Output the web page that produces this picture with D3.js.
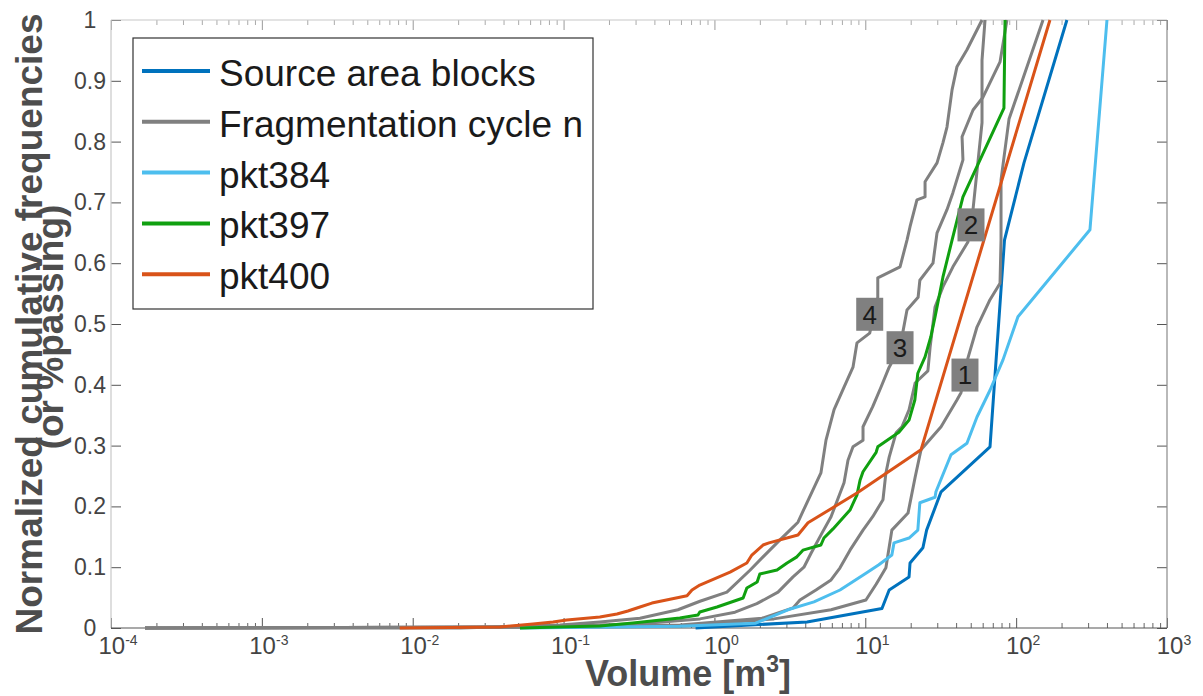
<!DOCTYPE html>
<html>
<head>
<meta charset="utf-8">
<script src="https://cdn.jsdelivr.net/npm/d3@7"></script>
<style>
  body { margin: 0; background: #fff; }
  svg { display: block; font-family: "Liberation Sans", Arial, Helvetica, sans-serif; }
</style>
</head>
<body>
<svg id="chart" width="1203" height="696"></svg>
<script>
// ---- Data: [volume m³, normalized cumulative frequency] ----
const sourceBlocks = [[0.75,0],[4.11,0.010],[12.9,0.032],[14.4,0.0625],[19.5,0.084],[19.8,0.107],[24.1,0.132],[25.5,0.161],[31.8,0.224],[67.1,0.298],[83.7,0.638],[112.7,0.765],[217,1.0]];

const cycle1 = [[1.68e-4,0],[0.174,0.002],[0.591,0.003],[2.48,0.015],[5.93,0.030],[10.1,0.046],[11.8,0.072],[13.7,0.099],[15.0,0.161],[19.2,0.189],[21.4,0.248],[23.4,0.293],[31.8,0.331],[40.5,0.375],[43.1,0.387],[45.8,0.416],[47.9,0.444],[55.0,0.495],[67.1,0.540],[78.2,0.567],[79.4,0.638],[79.4,0.737],[89.7,0.837],[150.7,1.0]];

const cycle2 = [[1.68e-4,0],[0.0947,0.002],[0.591,0.005],[2.07,0.016],[3.32,0.033],[3.69,0.046],[4.71,0.0625],[5.93,0.079],[6.80,0.099],[7.92,0.128],[9.66,0.161],[11.2,0.183],[13.1,0.211],[13.7,0.255],[14.4,0.281],[16.0,0.321],[17.5,0.331],[19.5,0.359],[21.4,0.403],[26.0,0.423],[26.9,0.462],[29.0,0.528],[32.7,0.561],[38.1,0.594],[47.9,0.635],[50.2,0.663],[51.8,0.689],[59.4,0.831],[59.4,0.934],[62.2,1.0]];

const cycle3 = [[1.68e-4,0],[0.0698,0.002],[0.321,0.007],[0.802,0.015],[1.37,0.026],[1.91,0.040],[2.64,0.059],[3.32,0.084],[3.92,0.100],[4.37,0.123],[5.16,0.156],[5.93,0.183],[7.23,0.239],[7.68,0.276],[8.29,0.298],[9.66,0.309],[9.66,0.331],[11.2,0.364],[12.7,0.396],[14.4,0.429],[17.0,0.462],[18.9,0.523],[22.4,0.544],[23.0,0.572],[28.1,0.600],[29.9,0.650],[34.8,0.688],[38.1,0.716],[44.4,0.770],[43.8,0.808],[51.8,0.852],[60.3,0.873],[78.2,0.931],[86.9,1.0]];

const cycle4 = [[1.68e-4,0],[0.0206,0],[0.0947,0.005],[0.174,0.010],[0.321,0.016],[0.573,0.030],[0.802,0.044],[1.21,0.059],[1.72,0.095],[2.10,0.117],[2.72,0.145],[3.32,0.166],[3.58,0.174],[3.98,0.199],[4.50,0.227],[5.08,0.255],[5.49,0.309],[6.21,0.359],[7.23,0.396],[8.29,0.429],[8.81,0.469],[10.7,0.485],[12.1,0.544],[12.1,0.576],[17.0,0.594],[18.9,0.638],[19.8,0.660],[22.0,0.704],[24.9,0.709],[24.9,0.734],[29.9,0.765],[32.7,0.798],[34.8,0.824],[37.6,0.885],[40.5,0.923],[47.2,0.951],[59.4,1.0]];

const pkt384 = [[0.0514,0],[0.59,0.003],[1.88,0.008],[3.07,0.030],[4.57,0.043],[6.80,0.0625],[10.1,0.090],[12.3,0.104],[15.0,0.120],[15.5,0.140],[19.5,0.148],[22.3,0.161],[23.0,0.206],[29.0,0.215],[29.4,0.224],[37.0,0.285],[47.2,0.304],[55.0,0.347],[67.1,0.391],[81.8,0.441],[102.8,0.512],[308.5,0.655],[400,1.0]];

const pkt397 = [[0.0514,0],[0.174,0.0033],[0.288,0.0082],[0.59,0.0164],[0.778,0.0214],[0.80,0.0263],[1.04,0.0345],[1.55,0.0493],[1.64,0.0658],[1.92,0.0757],[2.00,0.0888],[2.60,0.0954],[3.03,0.107],[3.52,0.117],[3.86,0.128],[5.08,0.1365],[5.32,0.148],[6.11,0.163],[7.92,0.194],[8.81,0.219],[9.23,0.243],[9.66,0.257],[11.8,0.289],[12.1,0.298],[16.7,0.322],[19.5,0.342],[21.3,0.375],[22.3,0.419],[24.9,0.446],[27.2,0.479],[29.0,0.5115],[32.7,0.577],[37.6,0.638],[44.4,0.709],[83.0,0.855],[84.4,1.0]];

const pkt400 = [[0.0082,0],[0.0379,0.0016],[0.0627,0.0066],[0.0851,0.0099],[0.105,0.013],[0.174,0.018],[0.226,0.023],[0.267,0.028],[0.321,0.0345],[0.385,0.041],[0.658,0.053],[0.710,0.0625],[0.80,0.0707],[1.27,0.092],[1.64,0.107],[1.77,0.120],[2.10,0.1365],[2.30,0.140],[3.58,0.153],[4.17,0.173],[8.81,0.222],[23.4,0.293],[167.5,1.0]];

// Cycle number tags sitting on the grey curves
const cycleLabels = ["1", "2", "3", "4"];
const cycleLabelVolume = [45.8, 50.2, 17.0, 10.7];
const cycleLabelFreq = [0.416, 0.663, 0.461, 0.516];

// Axis ticks
const volumeTicks = [1e-4, 1e-3, 1e-2, 1e-1, 1, 10, 100, 1000];
const volumeTickExponents = ["-4", "-3", "-2", "-1", "0", "1", "2", "3"];
const freqTicks = [0, 0.1, 0.2, 0.3, 0.4, 0.5, 0.6, 0.7, 0.8, 0.9, 1];
const freqTickLabels = ["0", "0.1", "0.2", "0.3", "0.4", "0.5", "0.6", "0.7", "0.8", "0.9", "1"];

const legendNames = ["Source area blocks", "Fragmentation cycle n", "pkt384", "pkt397", "pkt400"];

// ---- Styles ----
const BLUE = "#0072BD", GREY = "#808080", LIGHTBLUE = "#4DBEEE", GREEN = "#10A010", ORANGE = "#D95319";
const legendColors = [BLUE, GREY, LIGHTBLUE, GREEN, ORANGE];

const svg = d3.select("#chart");
const plot = { left: 111, right: 1167, top: 20, bottom: 628 };

const x = d3.scaleLog().domain([1e-4, 1e3]).range([plot.left, plot.right]);
const y = d3.scaleLinear().domain([0, 1]).range([plot.bottom, plot.top]);

// minor ticks 2..9 within every decade
const minorTicks = [];
for (let e = -4; e < 3; e++) for (let m = 2; m <= 9; m++) minorTicks.push(m * Math.pow(10, e));

const axisG = svg.append("g");

function tickAxis(axisFn, scale, values, size, yPos, xPos, color) {
  const g = axisG.append("g")
    .attr("transform", `translate(${xPos || 0},${yPos || 0})`)
    .call(axisFn(scale).tickValues(values).tickSize(size).tickFormat(""));
  g.select(".domain").remove();
  g.selectAll(".tick line").attr("stroke", color).attr("stroke-width", 1);
  return g;
}

// bottom and top: major + minor, pointing inward
tickAxis(d3.axisBottom, x, volumeTicks, -10, plot.bottom, 0, "#555");
tickAxis(d3.axisBottom, x, minorTicks, -5, plot.bottom, 0, "#666");
tickAxis(d3.axisTop, x, volumeTicks, -10, plot.top, 0, "#9a9a9a");
tickAxis(d3.axisTop, x, minorTicks, -5, plot.top, 0, "#aaa");
// left and right
tickAxis(d3.axisLeft, y, freqTicks, -10, 0, plot.left, "#555");
tickAxis(d3.axisRight, y, freqTicks, -10, 0, plot.right, "#555");

// frame
axisG.append("line").attr("x1", plot.left).attr("x2", plot.left).attr("y1", plot.top).attr("y2", plot.bottom).attr("stroke", "#c8c8c8").attr("stroke-width", 1.2);
axisG.append("line").attr("x1", plot.left).attr("x2", plot.right).attr("y1", plot.top).attr("y2", plot.top).attr("stroke", "#c8c8c8").attr("stroke-width", 1.2);
axisG.append("line").attr("x1", plot.right).attr("x2", plot.right).attr("y1", plot.top).attr("y2", plot.bottom).attr("stroke", "#8a8a8a").attr("stroke-width", 1.2);
axisG.append("line").attr("x1", plot.left).attr("x2", plot.right).attr("y1", plot.bottom).attr("y2", plot.bottom).attr("stroke", "#555").attr("stroke-width", 1.2);

// x tick labels as powers of ten
volumeTicks.forEach((v, i) => {
  const t = axisG.append("text")
    .attr("x", x(v) + 7).attr("y", 654)
    .attr("text-anchor", "middle")
    .attr("fill", "#444").attr("font-size", 24);
  t.append("tspan").text("10");
  t.append("tspan").attr("font-size", 14).attr("dy", -9).text(volumeTickExponents[i]);
});

// y tick labels
freqTicks.forEach((f, i) => {
  axisG.append("text")
    .attr("x", 90).attr("y", y(f)).attr("dy", "0.35em")
    .attr("text-anchor", "middle")
    .attr("fill", "#444").attr("font-size", 23)
    .text(freqTickLabels[i]);
});

// axis titles
const xt = svg.append("text")
  .attr("x", 688).attr("y", 686)
  .attr("text-anchor", "middle")
  .attr("font-weight", "bold").attr("font-size", 36).attr("fill", "#4d4d4d");
xt.append("tspan").text("Volume [m");
xt.append("tspan").attr("font-size", 23).attr("dy", -14).text("3");
xt.append("tspan").attr("dy", 14).text("]");

svg.append("text")
  .attr("transform", `translate(42,324) rotate(-90)`)
  .attr("text-anchor", "middle")
  .attr("font-weight", "bold").attr("font-size", 37).attr("fill", "#4d4d4d")
  .text("Normalized cumulative frequencies");
svg.append("text")
  .attr("transform", `translate(63,327) rotate(-90)`)
  .attr("text-anchor", "middle")
  .attr("font-weight", "bold").attr("font-size", 37).attr("fill", "#4d4d4d")
  .text("(or %passing)");

// ---- Curves ----
const line = d3.line().x(d => x(d[0])).y(d => y(d[1]));
const curves = [
  { data: sourceBlocks, color: BLUE },
  { data: cycle1, color: GREY },
  { data: cycle2, color: GREY },
  { data: cycle3, color: GREY },
  { data: cycle4, color: GREY },
  { data: pkt384, color: LIGHTBLUE },
  { data: pkt397, color: GREEN },
  { data: pkt400, color: ORANGE }
];
svg.append("g").selectAll("path").data(curves).join("path")
  .attr("d", d => line(d.data))
  .attr("fill", "none")
  .attr("stroke", d => d.color)
  .attr("stroke-width", 3)
  .attr("stroke-linejoin", "round");

// ---- Cycle number tags ----
const tagW = 27, tagH = 33;
const tags = svg.append("g").selectAll("g").data(cycleLabels).join("g")
  .attr("transform", (d, i) => `translate(${x(cycleLabelVolume[i])},${y(cycleLabelFreq[i])})`);
tags.append("rect")
  .attr("x", -tagW / 2).attr("y", -tagH / 2).attr("width", tagW).attr("height", tagH)
  .attr("fill", "#808080");
tags.append("text")
  .attr("text-anchor", "middle").attr("dy", "0.36em")
  .attr("font-size", 26).attr("fill", "#1a1a1a")
  .text(d => d);

// ---- Legend ----
const legend = svg.append("g");
legend.append("rect")
  .attr("x", 133).attr("y", 38).attr("width", 460).attr("height", 271)
  .attr("fill", "#fff").attr("stroke", "#333").attr("stroke-width", 1.2);
const rows = legend.selectAll("g.row").data(legendNames).join("g")
  .attr("class", "row")
  .attr("transform", (d, i) => `translate(0,${71 + i * 50.8})`);
rows.append("line")
  .attr("x1", 142).attr("x2", 210).attr("y1", 0).attr("y2", 0)
  .attr("stroke", (d, i) => legendColors[i]).attr("stroke-width", 4);
rows.append("text")
  .attr("x", 219).attr("y", 15)
  .attr("font-size", 37).attr("fill", "#1a1a1a")
  .text(d => d);
</script>
</body>
</html>
